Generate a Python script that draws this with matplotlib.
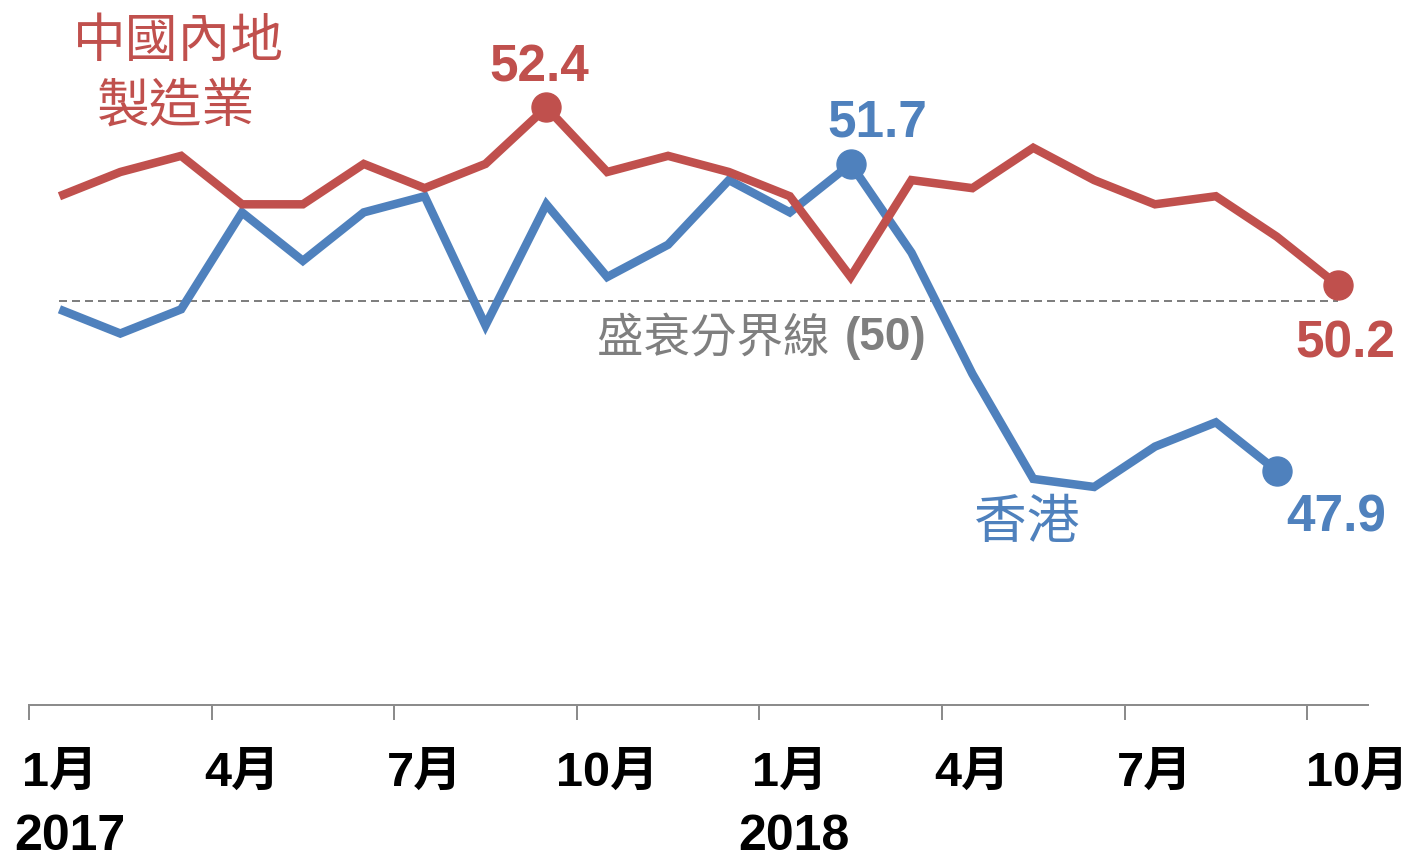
import matplotlib
matplotlib.use("Agg")
import matplotlib.pyplot as plt
import matplotlib.transforms as mtransforms
import numpy as np

# ---------------- data ----------------
china_pmi = [51.3, 51.6, 51.8, 51.2, 51.2, 51.7, 51.4, 51.7, 52.4, 51.6, 51.8, 51.6,
             51.3, 50.3, 51.5, 51.4, 51.9, 51.5, 51.2, 51.3, 50.8, 50.2]
hk_pmi = [49.9, 49.6, 49.9, 51.1, 50.5, 51.1, 51.3, 49.7, 51.2, 50.3, 50.7, 51.5,
          51.1, 51.7, 50.6, 49.1, 47.8, 47.7, 48.2, 48.5, 47.9]
month_labels = ["1月", "4月", "7月", "10月", "1月", "4月", "7月", "10月"]
year_labels = ["2017", "2018"]
threshold = 50

RED = "#C0504D"
BLUE = "#4F81BD"
GRAY = "#7F7F7F"
CJK = ["Noto Sans CJK TC", "DejaVu Sans"]
NUM = ["Liberation Sans", "Noto Sans CJK TC"]

W, H = 1412, 861
fig = plt.figure(figsize=(W / 100, H / 100), dpi=100)
ax = fig.add_axes([29 / W, (H - 705) / H, (1368 - 29) / W, 705 / H])

x_cn = np.arange(len(china_pmi))
x_hk = np.arange(len(hk_pmi))
px = 0.72  # points per pixel at 100 dpi

# threshold line
ax.plot([x_cn[0], x_cn[-1]], [threshold, threshold], color=GRAY, lw=2 * px,
        dashes=(4, 2.5), zorder=1)

ax.plot(x_hk, hk_pmi, color=BLUE, lw=8.5 * px, solid_joinstyle="miter",
        solid_capstyle="butt", zorder=2)
ax.plot(x_cn, china_pmi, color=RED, lw=8.5 * px, solid_joinstyle="miter",
        solid_capstyle="butt", zorder=3)

# highlighted points
i_peak = int(np.argmax(china_pmi))
i_hk_peak = int(np.argmax(hk_pmi))
ms = 29 * px
ax.plot([x_cn[i_peak], x_cn[-1]], [china_pmi[i_peak], china_pmi[-1]], "o",
        color=RED, ms=ms, zorder=4)
ax.plot([x_hk[i_hk_peak], x_hk[-1]], [hk_pmi[i_hk_peak], hk_pmi[-1]], "o",
        color=BLUE, ms=ms, zorder=4)

ax.set_xlim(-0.5, len(china_pmi) - 0.5)
ax.set_ylim(45, 53.73)

# axes styling
for s in ["left", "top", "right"]:
    ax.spines[s].set_visible(False)
ax.spines["bottom"].set_color("#8C8C8C")
ax.spines["bottom"].set_linewidth(2 * px)
ax.set_yticks([])

major = np.arange(-0.5, len(china_pmi) - 0.5, 3)
ax.set_xticks(major)
ax.set_xticklabels([])
ax.tick_params(axis="x", which="major", length=15 * px, width=2 * px,
               color="#8C8C8C", direction="out")
label_pos = np.arange(0, len(china_pmi), 3)
ax.set_xticks(label_pos, minor=True)
ax.set_xticklabels(month_labels, minor=True, fontsize=35, fontweight="bold",
                   family=NUM, color="black")
ax.tick_params(axis="x", which="minor", length=0, pad=33)
# last label pushed right like reference
lab = ax.get_xticklabels(minor=True)[-1]
lab.set_transform(lab.get_transform() +
                  mtransforms.ScaledTranslation(20 / 100, 0, fig.dpi_scale_trans))

# year labels
for xi, yl in zip([0.17, 12.07], year_labels):
    ax.annotate(yl, xy=(xi, 0), xycoords=("data", "axes fraction"),
                xytext=(0, -132 * px), textcoords="offset points",
                ha="center", va="center", fontsize=36, fontweight="bold",
                family=NUM, color="black", annotation_clip=False)

# series labels
ax.text(1.95, 53.22, "中國內地", color=RED, fontsize=38, family=CJK,
        ha="center", va="center")
ax.text(1.92, 52.42, "製造業", color=RED, fontsize=38, family=CJK,
        ha="center", va="center")
ax.text(15.9, 47.26, "香港", color=BLUE, fontsize=38, family=CJK,
        ha="center", va="center")

# value labels
ax.text(7.88, 52.89, f"{china_pmi[i_peak]:.1f}", color=RED, fontsize=37,
        fontweight="bold", family=NUM, ha="center", va="center")
ax.text(13.43, 52.21, f"{hk_pmi[i_hk_peak]:.1f}", color=BLUE, fontsize=37,
        fontweight="bold", family=NUM, ha="center", va="center")
ax.text(21.12, 49.47, f"{china_pmi[-1]:.1f}", color=RED, fontsize=37,
        fontweight="bold", family=NUM, ha="center", va="center")
ax.text(20.97, 47.31, f"{hk_pmi[-1]:.1f}", color=BLUE, fontsize=37,
        fontweight="bold", family=NUM, ha="center", va="center")

# threshold label
ax.text(12.66, 49.54, "盛衰分界線", color=GRAY, fontsize=33.5, family=CJK,
        ha="right", va="center")
ax.text(12.9, 49.54, f"({threshold})", color=GRAY, fontsize=33,
        fontweight="bold", family=NUM, ha="left", va="center")

fig.savefig("out.png", dpi=100)
